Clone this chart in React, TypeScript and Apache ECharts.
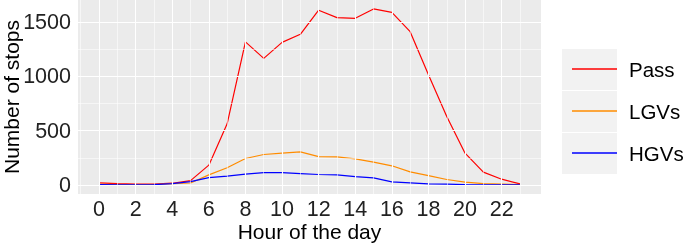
import React, { useEffect, useRef } from "react";
import * as echarts from "echarts";

const hours = [0, 1, 2, 3, 4, 5, 6, 7, 8, 9, 10, 11, 12, 13, 14, 15, 16, 17, 18, 19, 20, 21, 22, 23];
const passStops = [21, 14, 10, 11, 18, 42, 184, 564, 1316, 1165, 1312, 1386, 1607, 1539, 1533, 1619, 1588, 1410, 1015, 631, 294, 120, 55, 12];
const lgvStops = [8, 6, 5, 6, 13, 20, 95, 160, 245, 282, 294, 306, 263, 260, 242, 212, 178, 122, 88, 52, 28, 15, 10, 5];
const hgvStops = [6, 4, 4, 6, 15, 32, 70, 83, 101, 116, 116, 107, 98, 95, 79, 67, 30, 21, 12, 9, 6, 4, 3, 2];
const seriesNames = ["Pass", "LGVs", "HGVs"];
const seriesColors = ["#FF0000", "#FF8C00", "#0000FF"];

const xTickLabels = [0, 2, 4, 6, 8, 10, 12, 14, 16, 18, 20, 22];
const xMinorBreaks = [-1, 1, 3, 5, 7, 9, 11, 13, 15, 17, 19, 21, 23];
const yTickLabels = [0, 500, 1000, 1500];
const yMinorBreaks = [250, 750, 1250];

const FONT = "'Liberation Sans', Arial, Helvetica, sans-serif";

export default function App() {
  const ref = useRef<HTMLDivElement>(null);
  useEffect(() => {
    if (!ref.current) return;
    const chart = echarts.init(ref.current, undefined, { renderer: "svg" });
    const toPairs = (vals: number[]) => hours.map((h, i) => [h, vals[i]]);
    const major = { color: "#FFFFFF", width: 1.1, type: "solid" as const };
    const minor = { color: "#FFFFFF", width: 0.55, type: "solid" as const };
    const gridLines = [
      ...xMinorBreaks.map((v) => ({ xAxis: v, lineStyle: minor })),
      ...yMinorBreaks.map((v) => ({ yAxis: v, lineStyle: minor })),
      ...xTickLabels.map((v) => ({ xAxis: v, lineStyle: major })),
      ...yTickLabels.map((v) => ({ yAxis: v, lineStyle: major })),
    ];
    const keyTops = [49, 91, 133];
    chart.setOption({
      animation: false,
      grid: {
        left: 78,
        right: 144,
        top: 0,
        bottom: 51,
        show: true,
        backgroundColor: "#EBEBEB",
        borderWidth: 0,
        containLabel: false,
        outerBoundsMode: "none",
      },
      graphic: keyTops.map((t) => ({
        type: "rect",
        shape: { x: 562, y: t, width: 55, height: 41 },
        style: { fill: "#F2F2F2" },
        z: -1,
      })),
      legend: {
        data: seriesNames,
        orient: "vertical",
        left: 567,
        top: 53,
        itemWidth: 45,
        itemHeight: 1.5,
        itemGap: 20,
        icon: "rect",
        textStyle: { fontFamily: FONT, fontSize: 20.5, color: "#000", padding: [0, 0, 0, 7], lineHeight: 22 },
      },
      xAxis: {
        type: "value",
        min: -1.15,
        max: 24.15,
        name: "Hour of the day",
        nameLocation: "middle",
        nameGap: 27,
        nameMoveOverlap: false,
        nameTextStyle: { fontFamily: FONT, fontSize: 21, color: "#000" },
        axisLine: { show: false },
        axisTick: { show: true, length: 4, customValues: xTickLabels, lineStyle: { color: "#333", width: 1 } },
        axisLabel: { customValues: xTickLabels, fontFamily: FONT, fontSize: 21.5, color: "#222", margin: 4 },
        splitLine: { show: false },
      },
      yAxis: {
        type: "value",
        min: -81,
        max: 1701,
        name: "Number of stops",
        nameLocation: "middle",
        nameGap: 56,
        nameMoveOverlap: false,
        nameTextStyle: { fontFamily: FONT, fontSize: 21, color: "#000" },
        axisLine: { show: false },
        axisTick: { show: true, length: 4, customValues: yTickLabels, lineStyle: { color: "#333", width: 1 } },
        axisLabel: {
          customValues: yTickLabels,
          formatter: (v: number) => String(v),
          fontFamily: FONT,
          fontSize: 21.5,
          color: "#222",
          margin: 7,
        },
        splitLine: { show: false },
      },
      series: [
        {
          name: "grid",
          type: "line",
          data: [],
          silent: true,
          z: 1,
          markLine: {
            silent: true,
            symbol: ["none", "none"],
            label: { show: false },
            emphasis: { disabled: true },
            data: gridLines,
          },
        },
        ...[passStops, lgvStops, hgvStops].map((vals, i) => ({
          name: seriesNames[i],
          type: "line",
          data: toPairs(vals),
          showSymbol: false,
          symbol: "none",
          z: 3,
          color: seriesColors[i],
          lineStyle: { color: seriesColors[i], width: 1.2 },
        })),
      ],
    });
    return () => chart.dispose();
  }, []);
  return <div ref={ref} style={{ position: "fixed", left: 0, top: 0, width: 685, height: 245 }} />;
}
